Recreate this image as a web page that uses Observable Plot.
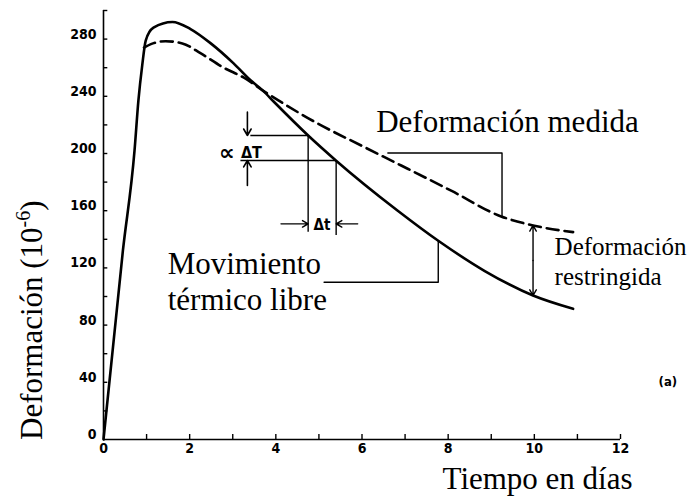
<!DOCTYPE html>
<html><head><meta charset="utf-8">
<script src="https://cdn.jsdelivr.net/npm/d3@7"></script>
<script src="https://cdn.jsdelivr.net/npm/@observablehq/plot@0.6"></script>
<style>body{margin:0;background:#fff;}</style>
</head><body><div id="chart"></div>
<script>
// --- Data ---
const libreDias = [0, 0.45, 0.72, 0.81, 0.9, 0.98, 1.16, 1.6, 2.02, 2.49, 3.02, 3.42, 3.7, 3.96, 4.75, 5.4, 6.83, 7.77, 8.84, 9.97, 10.9];
const libreDef  = [0, 132, 202, 237, 262, 279, 288, 292, 287, 277, 263, 251, 244, 236, 212.6, 195, 160, 139, 118, 100.7, 91.4];
const medidaDias = [0.94, 1.1, 1.44, 1.83, 2.26, 2.79, 3.26, 3.7, 4.04, 4.97, 5.98, 6.91, 8.07, 9.23, 9.97, 10.9];
const medidaDef  = [274, 276.5, 278.5, 277, 270, 260, 253, 244, 237.5, 221, 205.6, 191.6, 174, 156, 149.7, 145];

const xTickLabels = [0, 2, 4, 6, 8, 10, 12];
const xTickMarks = [1, 2, 3, 4, 5, 6, 7, 8, 9, 10, 11, 12];
const yTickLabels = [0, 40, 80, 120, 160, 200, 240, 280];
const yTickMarks = [20, 40, 60, 80, 100, 120, 140, 160, 180, 200, 220, 240, 260, 280, 300];

// Annotation geometry (data units: days, 10^-6)
const dTNiveles = [212.6, 195.1];
const dTInicio = [3.42, 3.19];
const dTFin = [4.75, 5.4];
const dTBase = [145, 142.7];
const dTFlechaX = 3.34;
const dTFlechaDesde = [228.9, 177.6];
const dtFlechaY = 150.8;
const dtFlechaDesde = [4.12, 5.9];
const medidaBracketX = [6.6, 9.25, 9.25];
const medidaBracketY = [200.3, 200.3, 156];
const libreBracketX = [5.12, 7.77, 7.77];
const libreBracketY = [110, 110, 139];
const restrX = 9.97;
const restrY = [149.7, 100.7];

const serif = "'Liberation Serif','Times New Roman',serif";
const narrow = "'Liberation Sans Narrow','DejaVu Sans Condensed','Arial Narrow','DejaVu Sans',sans-serif";

const libre = libreDias.map((d, i) => ({dia: d, def: libreDef[i]}));
const medida = medidaDias.map((d, i) => ({dia: d, def: medidaDef[i]}));
const dTLineas = dTNiveles.map((v, i) => ({x1: dTInicio[i], x2: dTFin[i], y: v}));
const dTVert = dTFin.map((x, i) => ({x, y1: dTNiveles[i], y2: dTBase[i]}));
const dTFlechas = dTNiveles.map((v, i) => ({x: dTFlechaX, y1: dTFlechaDesde[i], y2: v}));
const dtFlechas = dtFlechaDesde.map((x, i) => ({x1: x, x2: dTFin[i], y: dtFlechaY}));
const brackets = [
  ...medidaBracketX.map((x, i) => ({g: "m", x, y: medidaBracketY[i]})),
  ...libreBracketX.map((x, i) => ({g: "l", x, y: libreBracketY[i]}))
];
const restrMid = (restrY[0] + restrY[1]) / 2;
const restrFlechas = restrY.map(y => ({x: restrX, y1: restrMid, y2: y}));

const etiquetasGrandes = [
  {x: 6.33, y: 214.7, t: "Deformación medida"},
  {x: 1.49, y: 115.9, t: "Movimiento"},
  {x: 1.49, y: 90.9, t: "térmico libre"}
];
const etiquetasPeq = [
  {x: 10.47, y: 128.7, t: "Deformación"},
  {x: 10.47, y: 107.7, t: "restringida"}
];

const plot = Plot.plot({
  width: 694, height: 498,
  marginLeft: 103, marginRight: 74, marginTop: 10, marginBottom: 59,
  x: {domain: [0, 12]},
  y: {domain: [0, 300]},
  style: {background: "white", color: "black", overflow: "visible"},
  marks: [
    Plot.ruleY([0], {x1: 0, x2: 12, strokeWidth: 1.6}),
    Plot.ruleX([0], {y1: 0, y2: 300, strokeWidth: 1.6}),
    Plot.ruleX(xTickMarks, {y1: 0, y2: 3.5, strokeWidth: 1.4}),
    Plot.ruleY(yTickMarks, {x1: 0, x2: 0.1, strokeWidth: 1.4}),
    Plot.axisX({ticks: xTickLabels, tickSize: 0, tickPadding: 4, label: null,
      fontFamily: narrow, fontSize: 14, fontWeight: "bold"}),
    Plot.axisY({ticks: yTickLabels, tickSize: 0, tickPadding: 7, dy: -5, label: null,
      fontFamily: narrow, fontSize: 14, fontWeight: "bold"}),
    Plot.line(libre, {x: "dia", y: "def", curve: "monotone-x", strokeWidth: 2.6}),
    Plot.line(medida, {x: "dia", y: "def", curve: "monotone-x", strokeWidth: 2.6, strokeDasharray: "12,6"}),
    Plot.ruleY(dTLineas, {x1: "x1", x2: "x2", y: "y", strokeWidth: 1.4}),
    Plot.ruleX(dTVert, {x: "x", y1: "y1", y2: "y2", strokeWidth: 1.4}),
    Plot.arrow(dTFlechas, {x1: "x", x2: "x", y1: "y1", y2: "y2", headLength: 7, strokeWidth: 1.6}),
    Plot.arrow(dtFlechas, {x1: "x1", x2: "x2", y1: "y", y2: "y", headLength: 7, strokeWidth: 1.4}),
    Plot.line(brackets, {x: "x", y: "y", z: "g", strokeWidth: 1.4}),
    Plot.arrow(restrFlechas, {x1: "x", x2: "x", y1: "y1", y2: "y2", headLength: 7, strokeWidth: 1.4}),
    Plot.text(["∝"], {x: 2.86, y: 200.4, fontFamily: "'DejaVu Sans',sans-serif", fontSize: 22, fontWeight: "bold"}),
    Plot.text(["ΔT"], {x: 3.19, y: 200.4, textAnchor: "start", fontFamily: narrow, fontSize: 16, fontWeight: "bold"}),
    Plot.text(["Δt"], {x: 5.07, y: 149.6, fontFamily: narrow, fontSize: 15, fontWeight: "bold"}),
    Plot.text(etiquetasGrandes, {x: "x", y: "y", text: "t", textAnchor: "start", lineAnchor: "bottom", fontFamily: serif, fontSize: 31}),
    Plot.text(etiquetasPeq, {x: "x", y: "y", text: "t", textAnchor: "start", lineAnchor: "bottom", fontFamily: serif, fontSize: 25}),
    Plot.text(["Tiempo en días"], {x: 12.28, y: -34.3, textAnchor: "end", lineAnchor: "bottom", fontFamily: serif, fontSize: 31}),
    Plot.text(["(a)"], {x: 13.1, y: 40.6, fontFamily: narrow, fontSize: 13, fontWeight: "bold"})
  ]
});

const svg = d3.select(plot);
const t = svg.append("text")
  .attr("transform", "translate(42,440) rotate(-90)")
  .attr("font-family", serif)
  .attr("font-size", 31)
  .attr("fill", "black")
  .attr("text-anchor", "start");
t.append("tspan").text("Deformación (10");
t.append("tspan").attr("font-size", 20).attr("dy", -12).text("-6");
t.append("tspan").attr("dy", 12).text(")");

document.getElementById("chart").appendChild(plot);
</script>
</body></html>
